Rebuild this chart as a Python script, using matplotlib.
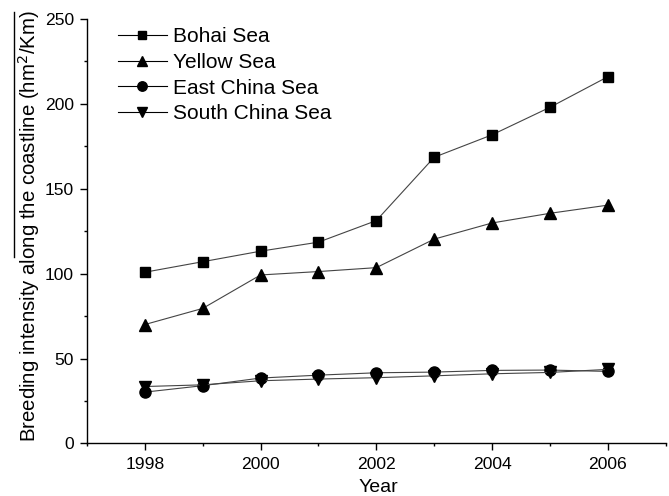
import matplotlib
matplotlib.use("Agg")
import matplotlib.pyplot as plt
from matplotlib.lines import Line2D
from matplotlib.ticker import MultipleLocator

plt.rcParams['font.family'] = ['Liberation Sans', 'DejaVu Sans']

years = [1998, 1999, 2000, 2001, 2002, 2003, 2004, 2005, 2006]
bohai = [100.8, 107.0, 113.2, 118.5, 131.2, 168.5, 181.7, 197.9, 215.9]
yellow = [70.0, 79.5, 99.2, 101.2, 103.5, 120.3, 129.8, 135.5, 140.3]
east_china = [30.2, 34.0, 38.5, 40.2, 41.6, 42.0, 43.0, 43.2, 42.4]
south_china = [33.5, 34.5, 36.9, 37.9, 38.7, 39.8, 41.0, 41.8, 43.6]

series = [
    ("Bohai Sea", bohai, "s", 7.5),
    ("Yellow Sea", yellow, "^", 9),
    ("East China Sea", east_china, "o", 8),
    ("South China Sea", south_china, "v", 9),
]

fig = plt.figure(figsize=(6.69, 4.96), dpi=100)
ax = fig.add_axes([0.130, 0.106, 0.865, 0.856])

for name, vals, mk, ms in series:
    ax.plot(years, vals, color="#444444", lw=0.8, marker=mk, ms=ms,
            mfc="black", mec="black", label=name)

ax.set_xlim(1997, 2007)
ax.set_ylim(0, 250)
ax.xaxis.set_major_locator(MultipleLocator(2))
ax.xaxis.set_minor_locator(MultipleLocator(1))
ax.yaxis.set_major_locator(MultipleLocator(50))
ax.yaxis.set_minor_locator(MultipleLocator(25))
ax.tick_params(which="major", direction="out", length=5, width=1, labelsize=12.6, pad=4.5)
ax.tick_params(which="minor", direction="out", length=2.5, width=1)
for s in ("top", "right"):
    ax.spines[s].set_visible(False)
for s in ("left", "bottom"):
    ax.spines[s].set_linewidth(1.0)

ax.set_xlabel("Year", fontsize=14)
ax.xaxis.set_label_coords((378 - 87) / 578.7, -(479 - 443.5) / 424.6)
ax.set_ylabel("Breeding intensity along the coastline (hm$^2$/Km)", fontsize=14.7)
ax.yaxis.set_label_coords(-(87 - 42) / 578.7, 0.511)

leg = ax.legend(loc="upper left", bbox_to_anchor=((118 - 87) / 578.7, 0.980),
                frameon=False, fontsize=15, handlelength=2.35, handletextpad=0.3,
                labelspacing=0.32, borderaxespad=0, borderpad=0, markerscale=0.85)
for h in leg.legend_handles:
    h.set_color("black")

# overline drawn above part of the y-axis label
fig.add_artist(Line2D([14/669, 14/669], [1 - 12/496, 1 - 257/496],
                      transform=fig.transFigure, color="black", lw=1))

fig.savefig("out.png", dpi=100)
